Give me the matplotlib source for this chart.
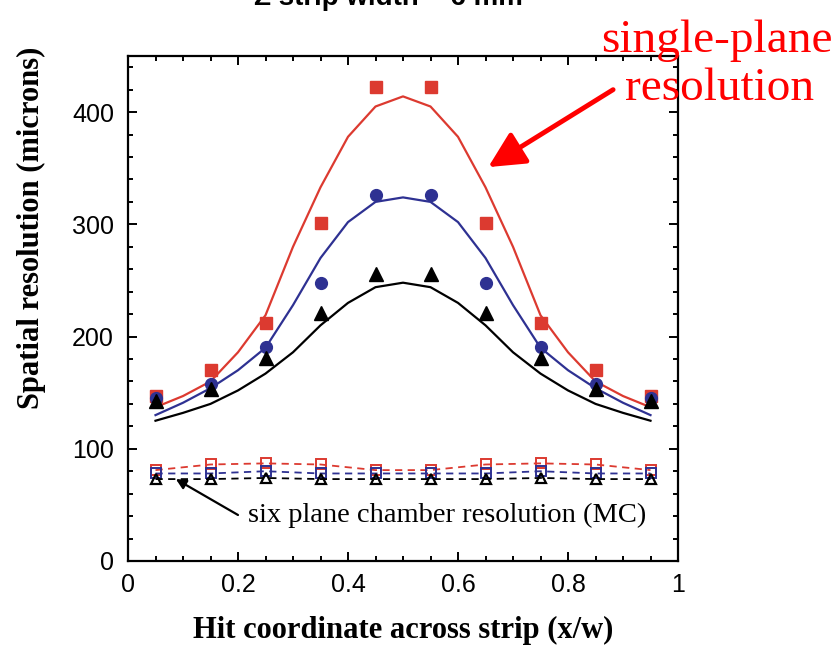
import matplotlib.pyplot as plt
from matplotlib.ticker import MultipleLocator

# measured points (single plane)
x_pts = [0.05, 0.15, 0.25, 0.35, 0.45, 0.55, 0.65, 0.75, 0.85, 0.95]
red_pts = [147, 170, 212, 301, 422, 422, 301, 212, 170, 147]
blue_pts = [145, 158, 191, 248, 326, 326, 248, 191, 158, 145]
black_pts = [143, 153, 181, 221, 256, 256, 221, 181, 153, 143]

# fitted curves
x_fit = [0.05, 0.10, 0.15, 0.20, 0.25, 0.30, 0.35, 0.40, 0.45, 0.50,
         0.55, 0.60, 0.65, 0.70, 0.75, 0.80, 0.85, 0.90, 0.95]
red_fit = [137, 147, 160, 186, 219, 280, 333, 378, 405, 414,
           405, 378, 333, 280, 219, 186, 160, 147, 137]
blue_fit = [130, 141, 154, 170, 190, 228, 270, 302, 320, 324,
            320, 302, 270, 228, 190, 170, 154, 141, 130]
black_fit = [125, 132, 140, 152, 167, 186, 210, 230, 244, 248,
             244, 230, 210, 186, 167, 152, 140, 132, 125]

# six plane chamber resolution (MC)
mc_red = [81, 86, 87, 86, 81, 81, 86, 87, 86, 81]
mc_blue = [78, 78, 80, 78, 78, 78, 78, 80, 78, 78]
mc_black = [73, 73, 74, 73, 73, 73, 73, 74, 73, 73]

RED = "#dc3a30"
BLUE = "#2e3192"
serif = "Liberation Serif"
sans = "Liberation Sans"

fig = plt.figure(figsize=(8.39, 6.46), dpi=100)
ax = fig.add_axes([128 / 839, 85 / 646, 550 / 839, 505 / 646])

# curves
ax.plot(x_fit, red_fit, color=RED, lw=1.6)
ax.plot(x_fit, blue_fit, color=BLUE, lw=1.6)
ax.plot(x_fit, black_fit, color="black", lw=1.6)

# MC dashed series
ax.plot(x_pts, mc_red, color=RED, ls=(0, (4, 3)), lw=1.3,
        marker="s", ms=7, mfc="none", mec=RED, mew=1.4)
ax.plot(x_pts, mc_blue, color=BLUE, ls=(0, (4, 3)), lw=1.3,
        marker="s", ms=7, mfc="none", mec=BLUE, mew=1.4)
ax.plot(x_pts, mc_black, color="black", ls=(0, (4, 3)), lw=1.3,
        marker="^", ms=6.5, mfc="none", mec="black", mew=1.6)

# measured markers
ax.plot(x_pts, red_pts, ls="none", marker="s", ms=9, color=RED)
ax.plot(x_pts, blue_pts, ls="none", marker="o", ms=8.5, color=BLUE)
ax.plot(x_pts, black_pts, ls="none", marker="^", ms=10, color="black")

ax.set_xlim(0, 1)
ax.set_ylim(0, 450)
ax.xaxis.set_major_locator(MultipleLocator(0.2))
ax.xaxis.set_minor_locator(MultipleLocator(0.05))
ax.yaxis.set_major_locator(MultipleLocator(100))
ax.yaxis.set_minor_locator(MultipleLocator(20))
ax.set_yticks([0, 100, 200, 300, 400])
ax.set_xticks([0, 0.2, 0.4, 0.6, 0.8, 1.0])
ax.set_xticklabels(["0", "0.2", "0.4", "0.6", "0.8", "1"])
ax.tick_params(which="both", direction="in", top=True, right=True, width=1.4,
               labelsize=18)
ax.tick_params(which="major", length=6.5)
ax.tick_params(which="minor", length=3.5)
ax.tick_params(axis="y", pad=10)
ax.tick_params(axis="x", pad=9)
for lab in ax.get_xticklabels() + ax.get_yticklabels():
    lab.set_fontfamily(sans)
for s in ax.spines.values():
    s.set_linewidth(1.6)

# axis labels
fig.text(31 / 839, 1 - 228 / 646, "Spatial resolution (microns)", rotation=90,
         ha="center", va="center", fontsize=22, fontweight="bold", family=serif)
fig.text(403 / 839, 1 - 630 / 646, "Hit coordinate across strip (x/w)",
         ha="center", va="center", fontsize=22, fontweight="bold", family=serif)

# title, cut at the top edge as in the original slide
fig.text(388 / 839, 1 - 5 / 646, "Z strip width = 6 mm", ha="center",
         va="baseline", fontsize=20, fontweight="bold", family=sans)

# single-plane annotation
fig.text(717 / 839, 1 - 52 / 646, "single-plane", ha="center", va="baseline",
         fontsize=34, color="#ff0000", family=serif)
fig.text(720 / 839, 1 - 100 / 646, "resolution", ha="center", va="baseline",
         fontsize=34, color="#ff0000", family=serif)
ax.annotate("", xy=(0.655, 351), xytext=(0.882, 420), annotation_clip=False,
            arrowprops=dict(arrowstyle="-|>,head_length=2.2,head_width=1.1",
                            color="#ff0000", lw=3.5, shrinkA=0, shrinkB=0))

# MC annotation
ax.text(0.218, 35, "six plane chamber resolution (MC)", ha="left",
        va="baseline", fontsize=20.5, family=serif)
ax.annotate("", xy=(0.087, 73), xytext=(0.200, 41),
            arrowprops=dict(arrowstyle="-|>,head_length=0.6,head_width=0.3",
                            color="black", lw=1.6, shrinkA=0, shrinkB=0))

fig.savefig("out.png", dpi=100)
